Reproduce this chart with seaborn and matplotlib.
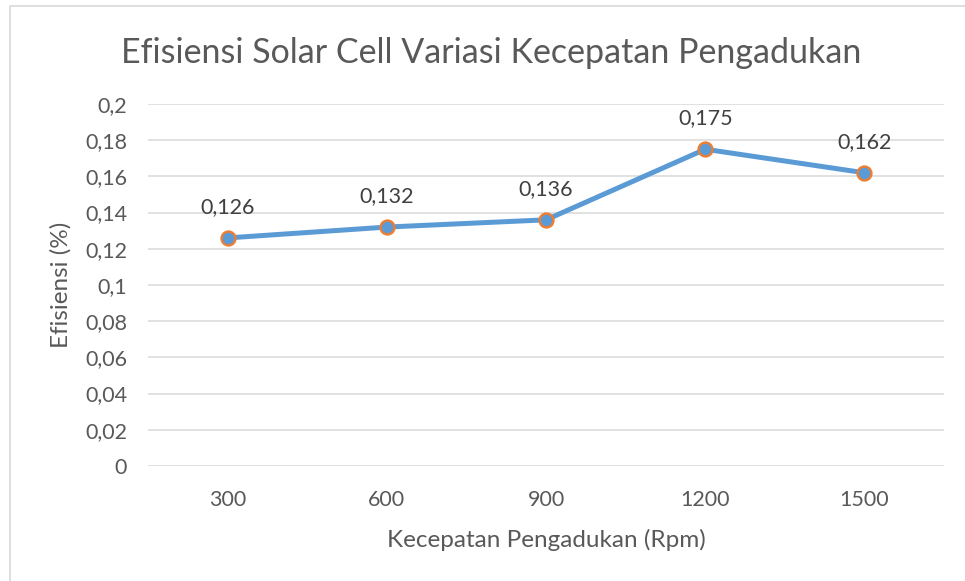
import matplotlib.pyplot as plt
import pandas as pd
import seaborn as sns
from matplotlib.patches import Rectangle
from matplotlib.ticker import FuncFormatter

# Data
speeds = ['300', '600', '900', '1200', '1500']
efficiency = [0.126, 0.132, 0.136, 0.175, 0.162]
y_ticks = [0, 0.02, 0.04, 0.06, 0.08, 0.1, 0.12, 0.14, 0.16, 0.18, 0.2]

df = pd.DataFrame({'speed': speeds, 'eff': efficiency})

sns.set_style('white')
plt.rcParams['font.family'] = ['Lato', 'DejaVu Sans']

text_color = '#595959'
line_blue = '#5B9BD5'
orange = '#ED7D31'
grid_gray = '#D9D9D9'

fig = plt.figure(figsize=(9.65, 5.81), dpi=100)
ax = fig.add_axes([0.1534, 0.198, 0.8249, 0.623])

sns.lineplot(data=df, x='speed', y='eff', ax=ax, color=line_blue, linewidth=3.6,
             marker='o', markersize=10, markerfacecolor=line_blue,
             markeredgecolor=orange, markeredgewidth=1.7, zorder=3)

ax.set_xlim(-0.5, len(speeds) - 0.5)
ax.set_ylim(0, 0.2)
ax.set_yticks(y_ticks)
ax.yaxis.set_major_formatter(FuncFormatter(lambda v, p: ('%g' % round(v, 2)).replace('.', ',')))
ax.grid(axis='y', color=grid_gray, linewidth=1.1)
ax.set_axisbelow(True)
for side in ['top', 'right', 'left', 'bottom']:
    ax.spines[side].set_visible(False)
ax.tick_params(axis='both', length=0, labelsize=15.5, colors=text_color)
ax.tick_params(axis='x', pad=17)
ax.tick_params(axis='y', pad=15)

# data labels
for i, v in enumerate(efficiency):
    ax.annotate(('%g' % v).replace('.', ','), (i, v), xytext=(0, 15),
                textcoords='offset points', ha='center', va='bottom',
                fontsize=15.5, color='#404040')

ax.set_xlabel('Kecepatan Pengadukan (Rpm)', fontsize=17.5, color=text_color, labelpad=14)
ax.set_ylabel('Efisiensi (%)', fontsize=17.5, color=text_color, labelpad=10)
fig.suptitle('Efisiensi Solar Cell Variasi Kecepatan Pengadukan', fontsize=24.5,
             color=text_color, x=0.509, y=0.937)

# chart border
fig.patches.append(Rectangle((10 / 965, -0.1), 1.2, 1 - 6 / 581 + 0.1,
                             transform=fig.transFigure, fill=False,
                             edgecolor='#D9D9D9', linewidth=1.2))

fig.savefig('out.png', dpi=100)
